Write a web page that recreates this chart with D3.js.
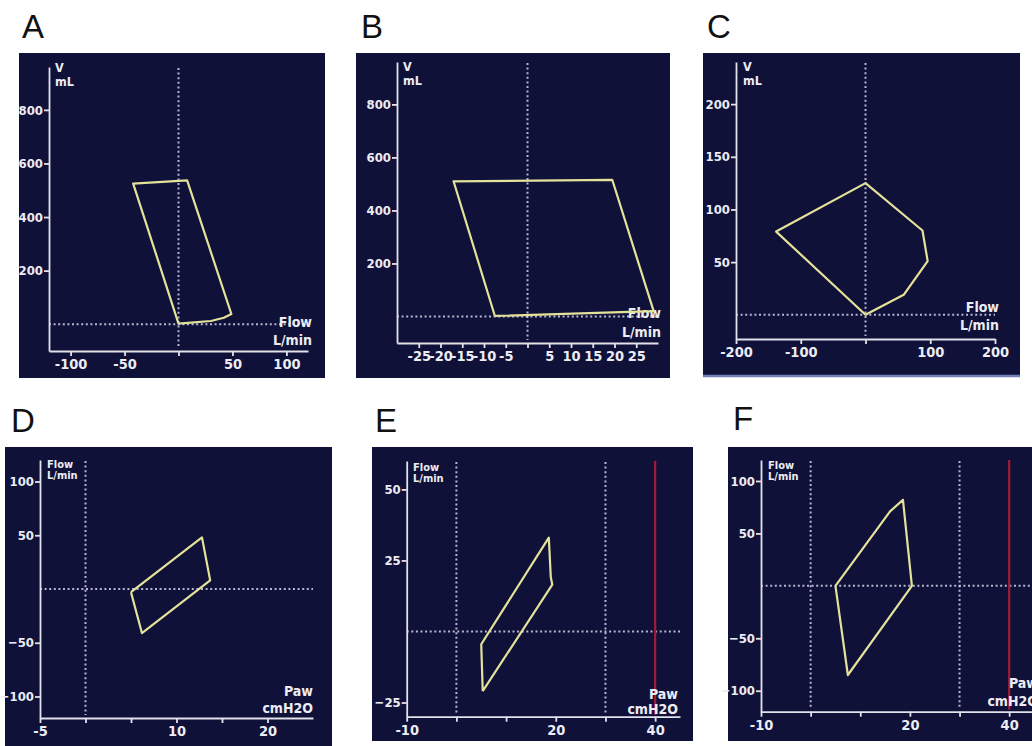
<!DOCTYPE html>
<html>
<head>
<meta charset="utf-8">
<script src="https://cdn.jsdelivr.net/npm/d3@7"></script>
<style>
  body { margin: 0; background: #fff; }
  svg { display: block; }
</style>
</head>
<body>
<svg id="chart" width="1032" height="746"></svg>
<script>

// loop vertices, [x, y] in data units
var loopA = [[0, 2], [-42, 525], [8, 537], [49, 38], [42, 24], [30, 12], [0, 2]];
var loopB = [[-7.5, 2], [-17, 510], [19.5, 515], [29, 20], [-7.5, 2]];
var loopC = [[0, 0], [-138, 79], [0, 125], [88, 80], [96, 51], [59, 19], [0, 0]];
var loopD = [[5, -3], [12.8, 48], [13.7, 8], [6.2, -41], [5, -3]];
var loopE = [[5.3, -21], [5, -4.5], [18.6, 33], [19, 19], [19.3, 16.5], [5.3, -21]];
var loopF = [[5, 0], [16, 71], [18.6, 82], [20.4, 0], [7.5, -85], [5, 0]];

// axis domains
var xDomainA = [-120, 120], yDomainA = [-100, 960];
var xDomainB = [-30, 30],   yDomainB = [-100, 960];
var xDomainC = [-200, 200], yDomainC = [-23, 240];
var xDomainD = [-5, 25],    yDomainD = [-120, 120];
var xDomainE = [-10, 45],   yDomainE = [-30, 60];
var xDomainF = [-10, 45],   yDomainF = [-120, 120];

// ticks and which ones get a label
var xTicksA = [-100, -50, 0, 50, 100], xLabelsA = [-100, -50, 50, 100];
var xTicksB = [-25, -20, -15, -10, -5, 0, 5, 10, 15, 20, 25], xLabelsB = [-25, -20, -15, -10, -5, 5, 10, 15, 20, 25];
var xTicksC = [-200, -100, 0, 100, 200], xLabelsC = [-200, -100, 100, 200];
var xTicksD = [-5, 0, 5, 10, 15, 20], xLabelsD = [-5, 10, 20];
var xTicksE = [-10, 0, 10, 20, 30, 40], xLabelsE = [-10, 20, 40];
var xTicksF = [-10, 0, 10, 20, 30, 40], xLabelsF = [-10, 20, 40];

var yTicksA = [200, 400, 600, 800];
var yTicksB = [200, 400, 600, 800];
var yTicksC = [50, 100, 150, 200];
var yTicksD = [-100, -50, 50, 100];
var yTicksE = [-25, 25, 50];
var yTicksF = [-100, -50, 50, 100];

// dotted guide lines (x positions) and red limit line
var vGuidesA = [0], vGuidesB = [0], vGuidesC = [0];
var vGuidesD = [0], vGuidesE = [0, 30], vGuidesF = [0, 30];
var limitE = 40, limitF = 40;

var bg = "#0f1139";
var loopColor = "#e4e29a";
var axisColor = "#e2e2ea";
var narrow = "'DejaVu Sans Condensed', 'Liberation Sans Narrow', 'DejaVu Sans', sans-serif";

var svg = d3.select("#chart");

var panels = [
    {name: "A", loop: loopA, xd: xDomainA, yd: yDomainA, xt: xTicksA, xl: xLabelsA, yt: yTicksA, vg: vGuidesA,
     box: [19, 53, 306, 325], xr: [49, 308], yr: [351, 67], letter: [22, 38],
     top: ["V", "mL"], topPos: [55, 72, 86], bottom: ["Flow", "L/min"], botPos: [312, 327, 345], topSize: 12.5},
    {name: "B", loop: loopB, xd: xDomainB, yd: yDomainB, xt: xTicksB, xl: xLabelsB, yt: yTicksB, vg: vGuidesB,
     box: [356, 53, 314, 325], xr: [397, 658], yr: [343, 62], letter: [361, 38],
     top: ["V", "mL"], topPos: [403, 71, 85], bottom: ["Flow", "L/min"], botPos: [661, 318, 337], topSize: 12.5},
    {name: "C", loop: loopC, xd: xDomainC, yd: yDomainC, xt: xTicksC, xl: xLabelsC, yt: yTicksC, vg: vGuidesC,
     box: [703, 53, 317, 322], xr: [736, 995], yr: [339, 62], letter: [707, 38],
     top: ["V", "mL"], topPos: [743, 71, 85], bottom: ["Flow", "L/min"], botPos: [999, 312, 330], topSize: 12.5},
    {name: "D", loop: loopD, xd: xDomainD, yd: yDomainD, xt: xTicksD, xl: xLabelsD, yt: yTicksD, vg: vGuidesD,
     box: [5, 447, 327, 299], xr: [40, 313], yr: [718, 460], letter: [11, 432],
     top: ["Flow", "L/min"], topPos: [47, 468, 479], bottom: ["Paw", "cmH2O"], botPos: [313, 696, 713], topSize: 11},
    {name: "E", loop: loopE, xd: xDomainE, yd: yDomainE, xt: xTicksE, xl: xLabelsE, yt: yTicksE, vg: vGuidesE, limit: limitE,
     box: [372, 447, 321, 294], xr: [406.7, 680], yr: [716.7, 461], letter: [375, 432],
     top: ["Flow", "L/min"], topPos: [413, 471, 482], bottom: ["Paw", "cmH2O"], botPos: [678, 699, 714], topSize: 11},
    {name: "F", loop: loopF, xd: xDomainF, yd: yDomainF, xt: xTicksF, xl: xLabelsF, yt: yTicksF, vg: vGuidesF, limit: limitF,
     box: [728, 447, 310, 294], xr: [761, 1034], yr: [711.7, 460], letter: [733, 430],
     top: ["Flow", "L/min"], topPos: [768, 469, 480], bottom: ["Paw", "cmH2O"], botPos: [1038, 688, 706], topSize: 11}
];

panels.forEach(function(p) {
    drawPanel(p);
});

function drawPanel(p) {
    var g = svg.append("g").attr("class", "panel-" + p.name);

    // panel letter
    g.append("text")
        .attr("x", p.letter[0])
        .attr("y", p.letter[1])
        .style("font-family", "'Liberation Sans', Arial, sans-serif")
        .style("font-size", "33px")
        .style("fill", "#111")
        .text(p.name);

    g.append("rect")
        .attr("x", p.box[0]).attr("y", p.box[1])
        .attr("width", p.box[2]).attr("height", p.box[3])
        .style("fill", bg);

    // thin blue rule under panel C
    if (p.name === "C") {
        g.append("line")
            .attr("x1", p.box[0]).attr("x2", p.box[0] + p.box[2])
            .attr("y1", p.box[1] + p.box[3] + 1).attr("y2", p.box[1] + p.box[3] + 1)
            .style("stroke", "#6f7fb8").style("stroke-width", 2.5);
    }

    var x = d3.scaleLinear().domain(p.xd).range(p.xr);
    var y = d3.scaleLinear().domain(p.yd).range(p.yr);

    // dotted guides
    p.vg.forEach(function(v) {
        g.append("line")
            .attr("x1", x(v)).attr("x2", x(v))
            .attr("y1", p.yr[1] + 1).attr("y2", p.yr[0] - 3)
            .style("stroke", "#e0e0f4").style("stroke-width", 2)
            .style("stroke-dasharray", "2,2.6").style("opacity", 0.8);
    });
    g.append("line")
        .attr("x1", p.xr[0]).attr("x2", p.xr[1])
        .attr("y1", y(0)).attr("y2", y(0))
        .style("stroke", "#e0e0f4").style("stroke-width", 2)
        .style("stroke-dasharray", "2,2.6").style("opacity", 0.8);

    if (p.limit !== undefined) {
        g.append("line")
            .attr("x1", x(p.limit)).attr("x2", x(p.limit))
            .attr("y1", p.yr[1]).attr("y2", p.yr[0] - 2)
            .style("stroke", "#a11c35").style("stroke-width", 2.2);
    }

    // axes
    var xAxis = g.append("g")
        .attr("transform", "translate(0," + p.yr[0] + ")")
        .call(d3.axisBottom(x).tickValues(p.xt).tickSizeInner(5).tickSizeOuter(0).tickPadding(3)
            .tickFormat(function(d) { return p.xl.indexOf(d) >= 0 ? d : ""; }));
    xAxis.selectAll("text")
        .style("font-family", narrow).style("font-weight", "bold")
        .style("font-size", "14.5px").style("fill", "#ececf2");

    var yAxis = g.append("g")
        .attr("transform", "translate(" + p.xr[0] + ",0)")
        .call(d3.axisLeft(y).tickValues(p.yt).tickSizeInner(5).tickSizeOuter(0).tickPadding(1));
    yAxis.selectAll("text")
        .style("font-family", narrow).style("font-weight", "bold")
        .style("font-size", "13px").style("fill", "#ececf2");

    g.selectAll(".domain, .tick line")
        .style("stroke", axisColor).style("stroke-width", 1.8);

    // unit labels
    g.selectAll("text.toplab")
        .data(p.top).enter()
        .append("text")
        .attr("class", "toplab")
        .attr("x", p.topPos[0])
        .attr("y", function(d, i) { return p.topPos[1 + i]; })
        .style("font-family", narrow).style("font-weight", "bold")
        .style("font-size", p.topSize + "px").style("fill", "#ececf2")
        .text(function(d) { return d; });

    g.selectAll("text.botlab")
        .data(p.bottom).enter()
        .append("text")
        .attr("class", "botlab")
        .attr("x", p.botPos[0])
        .attr("y", function(d, i) { return p.botPos[1 + i]; })
        .attr("text-anchor", "end")
        .style("font-family", narrow).style("font-weight", "bold")
        .style("font-size", "14px").style("fill", "#ececf2")
        .text(function(d) { return d; });

    // loop
    var line = d3.line()
        .x(function(d) { return x(d[0]); })
        .y(function(d) { return y(d[1]); });

    g.append("path")
        .datum(p.loop)
        .attr("d", line)
        .style("fill", "none")
        .style("stroke", loopColor)
        .style("stroke-width", 2.2)
        .style("stroke-linejoin", "round");
}

</script>
</body>
</html>
